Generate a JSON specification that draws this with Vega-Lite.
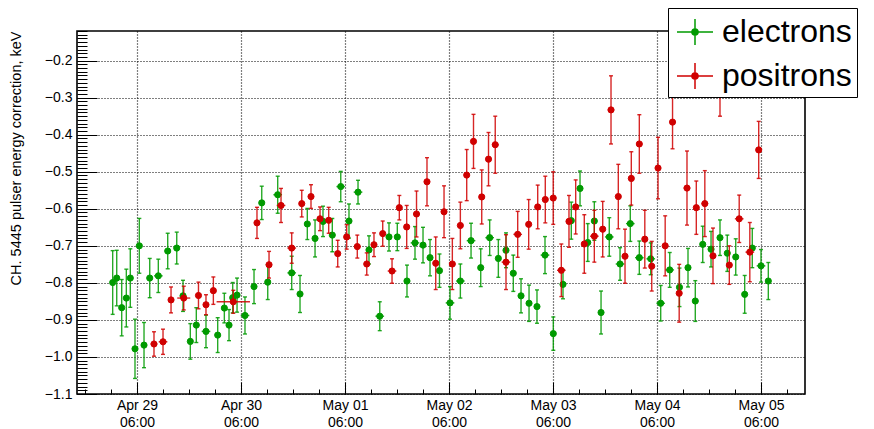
{
  "$schema": "https://vega.github.io/schema/vega-lite/v6.json",
  "width": 728,
  "height": 363,
  "autosize": {"type": "none"},
  "padding": {"left": 77, "top": 31, "right": 69, "bottom": 35},
  "background": "white",
  "config": {
    "font": "Liberation Sans",
    "view": {"stroke": "black", "strokeWidth": 1.6},
    "axis": {"labelColor": "black", "tickColor": "black", "titleColor": "black", "labelFont": "Liberation Sans", "titleFont": "Liberation Sans"},
    "legend": {
      "title": null,
      "orient": "none",
      "legendX": 591,
      "legendY": -23,
      "fillColor": "white",
      "strokeColor": "black",
      "padding": 5,
      "rowPadding": 9,
      "symbolType": "M-1,0H1M0,-0.72V0.72M-0.17,0A0.17,0.17 0 1,0 0.17,0A0.17,0.17 0 1,0 -0.17,0Z",
      "symbolSize": 1296,
      "symbolOffset": 3,
      "symbolStrokeWidth": 1.5,
      "labelFont": "Liberation Sans",
      "labelFontSize": 32,
      "labelColor": "black",
      "labelOffset": 8,
      "labelLimit": 400
    }
  },
  "data": {
    "values": [
      {"s": "electrons", "t": "2021-04-29T00:23:00Z", "v": -0.799, "e": 0.086},
      {"s": "electrons", "t": "2021-04-29T01:19:00Z", "v": -0.787, "e": 0.075},
      {"s": "electrons", "t": "2021-04-29T02:28:00Z", "v": -0.867, "e": 0.076},
      {"s": "electrons", "t": "2021-04-29T03:32:00Z", "v": -0.841, "e": 0.078},
      {"s": "electrons", "t": "2021-04-29T04:27:00Z", "v": -0.787, "e": 0.079},
      {"s": "electrons", "t": "2021-04-29T05:32:00Z", "v": -0.978, "e": 0.080},
      {"s": "electrons", "t": "2021-04-29T06:32:00Z", "v": -0.700, "e": 0.074},
      {"s": "electrons", "t": "2021-04-29T07:37:00Z", "v": -0.968, "e": 0.061},
      {"s": "electrons", "t": "2021-04-29T08:56:00Z", "v": -0.787, "e": 0.053},
      {"s": "electrons", "t": "2021-04-29T10:55:00Z", "v": -0.781, "e": 0.045, "xe": 60},
      {"s": "electrons", "t": "2021-04-29T13:05:00Z", "v": -0.714, "e": 0.048},
      {"s": "electrons", "t": "2021-04-29T15:10:00Z", "v": -0.706, "e": 0.043},
      {"s": "electrons", "t": "2021-04-29T16:37:00Z", "v": -0.835, "e": 0.042},
      {"s": "electrons", "t": "2021-04-29T18:18:00Z", "v": -0.958, "e": 0.048},
      {"s": "electrons", "t": "2021-04-29T19:41:00Z", "v": -0.914, "e": 0.047},
      {"s": "electrons", "t": "2021-04-29T21:55:00Z", "v": -0.931, "e": 0.044, "xe": 60},
      {"s": "electrons", "t": "2021-04-30T00:37:00Z", "v": -0.941, "e": 0.047},
      {"s": "electrons", "t": "2021-04-30T02:09:00Z", "v": -0.868, "e": 0.040},
      {"s": "electrons", "t": "2021-04-30T03:14:00Z", "v": -0.914, "e": 0.042},
      {"s": "electrons", "t": "2021-04-30T04:05:00Z", "v": -0.840, "e": 0.041},
      {"s": "electrons", "t": "2021-04-30T05:05:00Z", "v": -0.833, "e": 0.046},
      {"s": "electrons", "t": "2021-04-30T06:55:00Z", "v": -0.888, "e": 0.050, "xe": 60},
      {"s": "electrons", "t": "2021-04-30T09:00:00Z", "v": -0.810, "e": 0.046},
      {"s": "electrons", "t": "2021-04-30T10:47:00Z", "v": -0.584, "e": 0.045},
      {"s": "electrons", "t": "2021-04-30T12:10:00Z", "v": -0.798, "e": 0.047},
      {"s": "electrons", "t": "2021-04-30T14:28:00Z", "v": -0.562, "e": 0.050, "xe": 60},
      {"s": "electrons", "t": "2021-04-30T17:42:00Z", "v": -0.773, "e": 0.045, "xe": 60},
      {"s": "electrons", "t": "2021-04-30T19:37:00Z", "v": -0.830, "e": 0.050},
      {"s": "electrons", "t": "2021-04-30T21:18:00Z", "v": -0.641, "e": 0.042},
      {"s": "electrons", "t": "2021-04-30T23:05:00Z", "v": -0.680, "e": 0.050},
      {"s": "electrons", "t": "2021-05-01T00:55:00Z", "v": -0.634, "e": 0.041},
      {"s": "electrons", "t": "2021-05-01T03:04:00Z", "v": -0.671, "e": 0.045},
      {"s": "electrons", "t": "2021-05-01T05:01:00Z", "v": -0.540, "e": 0.041, "xe": 60},
      {"s": "electrons", "t": "2021-05-01T06:55:00Z", "v": -0.633, "e": 0.046},
      {"s": "electrons", "t": "2021-05-01T09:00:00Z", "v": -0.555, "e": 0.032, "xe": 60},
      {"s": "electrons", "t": "2021-05-01T11:32:00Z", "v": -0.711, "e": 0.038},
      {"s": "electrons", "t": "2021-05-01T14:01:00Z", "v": -0.890, "e": 0.039, "xe": 60},
      {"s": "electrons", "t": "2021-05-01T16:09:00Z", "v": -0.676, "e": 0.038},
      {"s": "electrons", "t": "2021-05-01T18:04:00Z", "v": -0.676, "e": 0.037},
      {"s": "electrons", "t": "2021-05-01T20:18:00Z", "v": -0.795, "e": 0.043},
      {"s": "electrons", "t": "2021-05-01T22:09:00Z", "v": -0.692, "e": 0.044, "xe": 60},
      {"s": "electrons", "t": "2021-05-02T00:00:00Z", "v": -0.698, "e": 0.048},
      {"s": "electrons", "t": "2021-05-02T01:37:00Z", "v": -0.732, "e": 0.049},
      {"s": "electrons", "t": "2021-05-02T03:48:00Z", "v": -0.767, "e": 0.045},
      {"s": "electrons", "t": "2021-05-02T06:14:00Z", "v": -0.854, "e": 0.044, "xe": 60},
      {"s": "electrons", "t": "2021-05-02T08:37:00Z", "v": -0.795, "e": 0.046, "xe": 60},
      {"s": "electrons", "t": "2021-05-02T11:05:00Z", "v": -0.686, "e": 0.047, "xe": 60},
      {"s": "electrons", "t": "2021-05-02T13:19:00Z", "v": -0.759, "e": 0.051},
      {"s": "electrons", "t": "2021-05-02T15:23:00Z", "v": -0.678, "e": 0.048, "xe": 60},
      {"s": "electrons", "t": "2021-05-02T17:23:00Z", "v": -0.734, "e": 0.051},
      {"s": "electrons", "t": "2021-05-02T19:09:00Z", "v": -0.712, "e": 0.047},
      {"s": "electrons", "t": "2021-05-02T20:50:00Z", "v": -0.774, "e": 0.049},
      {"s": "electrons", "t": "2021-05-02T22:37:00Z", "v": -0.835, "e": 0.046},
      {"s": "electrons", "t": "2021-05-03T00:28:00Z", "v": -0.855, "e": 0.049},
      {"s": "electrons", "t": "2021-05-03T02:18:00Z", "v": -0.864, "e": 0.045},
      {"s": "electrons", "t": "2021-05-03T04:09:00Z", "v": -0.725, "e": 0.050, "xe": 60},
      {"s": "electrons", "t": "2021-05-03T06:04:00Z", "v": -0.937, "e": 0.045},
      {"s": "electrons", "t": "2021-05-03T08:18:00Z", "v": -0.804, "e": 0.039},
      {"s": "electrons", "t": "2021-05-03T10:13:00Z", "v": -0.632, "e": 0.050},
      {"s": "electrons", "t": "2021-05-03T12:14:00Z", "v": -0.545, "e": 0.047},
      {"s": "electrons", "t": "2021-05-03T14:01:00Z", "v": -0.691, "e": 0.051},
      {"s": "electrons", "t": "2021-05-03T15:32:00Z", "v": -0.633, "e": 0.052},
      {"s": "electrons", "t": "2021-05-03T17:05:00Z", "v": -0.880, "e": 0.058},
      {"s": "electrons", "t": "2021-05-03T18:59:00Z", "v": -0.676, "e": 0.052, "xe": 60},
      {"s": "electrons", "t": "2021-05-03T21:28:00Z", "v": -0.749, "e": 0.044, "xe": 60},
      {"s": "electrons", "t": "2021-05-03T23:50:00Z", "v": -0.640, "e": 0.048, "xe": 60},
      {"s": "electrons", "t": "2021-05-04T01:55:00Z", "v": -0.732, "e": 0.045, "xe": 60},
      {"s": "electrons", "t": "2021-05-04T04:33:00Z", "v": -0.735, "e": 0.043, "xe": 60},
      {"s": "electrons", "t": "2021-05-04T06:51:00Z", "v": -0.855, "e": 0.048, "xe": 60},
      {"s": "electrons", "t": "2021-05-04T08:56:00Z", "v": -0.765, "e": 0.047, "xe": 60},
      {"s": "electrons", "t": "2021-05-04T11:11:00Z", "v": -0.812, "e": 0.052},
      {"s": "electrons", "t": "2021-05-04T13:09:00Z", "v": -0.759, "e": 0.052},
      {"s": "electrons", "t": "2021-05-04T14:50:00Z", "v": -0.849, "e": 0.055},
      {"s": "electrons", "t": "2021-05-04T16:33:00Z", "v": -0.696, "e": 0.049},
      {"s": "electrons", "t": "2021-05-04T18:28:00Z", "v": -0.709, "e": 0.048},
      {"s": "electrons", "t": "2021-05-04T20:32:00Z", "v": -0.678, "e": 0.048},
      {"s": "electrons", "t": "2021-05-04T22:13:00Z", "v": -0.720, "e": 0.049},
      {"s": "electrons", "t": "2021-05-05T00:10:00Z", "v": -0.730, "e": 0.049},
      {"s": "electrons", "t": "2021-05-05T02:14:00Z", "v": -0.831, "e": 0.051},
      {"s": "electrons", "t": "2021-05-05T03:59:00Z", "v": -0.706, "e": 0.053},
      {"s": "electrons", "t": "2021-05-05T06:00:00Z", "v": -0.754, "e": 0.044, "xe": 60},
      {"s": "electrons", "t": "2021-05-05T07:41:00Z", "v": -0.795, "e": 0.050},
      {"s": "positrons", "t": "2021-04-29T09:55:00Z", "v": -0.965, "e": 0.033, "xe": 45},
      {"s": "positrons", "t": "2021-04-29T12:00:00Z", "v": -0.959, "e": 0.034, "xe": 60},
      {"s": "positrons", "t": "2021-04-29T13:51:00Z", "v": -0.846, "e": 0.035},
      {"s": "positrons", "t": "2021-04-29T16:47:00Z", "v": -0.841, "e": 0.032, "xe": 90},
      {"s": "positrons", "t": "2021-04-29T20:11:00Z", "v": -0.834, "e": 0.036},
      {"s": "positrons", "t": "2021-04-29T21:55:00Z", "v": -0.859, "e": 0.027},
      {"s": "positrons", "t": "2021-04-29T23:37:00Z", "v": -0.821, "e": 0.037},
      {"s": "positrons", "t": "2021-04-30T04:13:00Z", "v": -0.851, "e": 0.031, "xe": 231},
      {"s": "positrons", "t": "2021-04-30T09:41:00Z", "v": -0.638, "e": 0.042},
      {"s": "positrons", "t": "2021-04-30T12:28:00Z", "v": -0.751, "e": 0.036},
      {"s": "positrons", "t": "2021-04-30T15:14:00Z", "v": -0.591, "e": 0.046, "xe": 60},
      {"s": "positrons", "t": "2021-04-30T17:42:00Z", "v": -0.706, "e": 0.041, "xe": 60},
      {"s": "positrons", "t": "2021-04-30T20:01:00Z", "v": -0.586, "e": 0.036},
      {"s": "positrons", "t": "2021-04-30T22:09:00Z", "v": -0.567, "e": 0.032},
      {"s": "positrons", "t": "2021-05-01T00:14:00Z", "v": -0.627, "e": 0.032},
      {"s": "positrons", "t": "2021-05-01T02:14:00Z", "v": -0.631, "e": 0.035},
      {"s": "positrons", "t": "2021-05-01T04:19:00Z", "v": -0.721, "e": 0.036},
      {"s": "positrons", "t": "2021-05-01T06:23:00Z", "v": -0.676, "e": 0.033},
      {"s": "positrons", "t": "2021-05-01T08:50:00Z", "v": -0.702, "e": 0.031},
      {"s": "positrons", "t": "2021-05-01T11:01:00Z", "v": -0.749, "e": 0.030},
      {"s": "positrons", "t": "2021-05-01T12:41:00Z", "v": -0.697, "e": 0.032},
      {"s": "positrons", "t": "2021-05-01T14:42:00Z", "v": -0.667, "e": 0.034},
      {"s": "positrons", "t": "2021-05-01T16:51:00Z", "v": -0.768, "e": 0.033, "xe": 60},
      {"s": "positrons", "t": "2021-05-01T18:32:00Z", "v": -0.597, "e": 0.033},
      {"s": "positrons", "t": "2021-05-01T20:14:00Z", "v": -0.649, "e": 0.058},
      {"s": "positrons", "t": "2021-05-01T22:30:00Z", "v": -0.614, "e": 0.062},
      {"s": "positrons", "t": "2021-05-02T00:55:00Z", "v": -0.527, "e": 0.065},
      {"s": "positrons", "t": "2021-05-02T02:56:00Z", "v": -0.747, "e": 0.071},
      {"s": "positrons", "t": "2021-05-02T04:51:00Z", "v": -0.608, "e": 0.070},
      {"s": "positrons", "t": "2021-05-02T06:46:00Z", "v": -0.749, "e": 0.069},
      {"s": "positrons", "t": "2021-05-02T08:37:00Z", "v": -0.645, "e": 0.063},
      {"s": "positrons", "t": "2021-05-02T10:05:00Z", "v": -0.509, "e": 0.069},
      {"s": "positrons", "t": "2021-05-02T11:39:00Z", "v": -0.418, "e": 0.073},
      {"s": "positrons", "t": "2021-05-02T13:33:00Z", "v": -0.568, "e": 0.073},
      {"s": "positrons", "t": "2021-05-02T15:07:00Z", "v": -0.466, "e": 0.072},
      {"s": "positrons", "t": "2021-05-02T16:40:00Z", "v": -0.427, "e": 0.077, "xe": 45},
      {"s": "positrons", "t": "2021-05-02T19:09:00Z", "v": -0.744, "e": 0.074, "xe": 60},
      {"s": "positrons", "t": "2021-05-02T21:51:00Z", "v": -0.669, "e": 0.062, "xe": 60},
      {"s": "positrons", "t": "2021-05-03T00:23:00Z", "v": -0.642, "e": 0.067},
      {"s": "positrons", "t": "2021-05-03T02:28:00Z", "v": -0.595, "e": 0.059},
      {"s": "positrons", "t": "2021-05-03T04:13:00Z", "v": -0.575, "e": 0.063},
      {"s": "positrons", "t": "2021-05-03T06:03:00Z", "v": -0.571, "e": 0.071},
      {"s": "positrons", "t": "2021-05-03T07:55:00Z", "v": -0.766, "e": 0.071, "xe": 60},
      {"s": "positrons", "t": "2021-05-03T09:41:00Z", "v": -0.634, "e": 0.070},
      {"s": "positrons", "t": "2021-05-03T11:14:00Z", "v": -0.595, "e": 0.073},
      {"s": "positrons", "t": "2021-05-03T13:13:00Z", "v": -0.695, "e": 0.079},
      {"s": "positrons", "t": "2021-05-03T15:32:00Z", "v": -0.674, "e": 0.070, "xe": 60},
      {"s": "positrons", "t": "2021-05-03T17:28:00Z", "v": -0.655, "e": 0.075},
      {"s": "positrons", "t": "2021-05-03T19:23:00Z", "v": -0.333, "e": 0.092, "xe": 45},
      {"s": "positrons", "t": "2021-05-03T21:04:00Z", "v": -0.567, "e": 0.087},
      {"s": "positrons", "t": "2021-05-03T22:37:00Z", "v": -0.728, "e": 0.073},
      {"s": "positrons", "t": "2021-05-04T00:04:00Z", "v": -0.518, "e": 0.072},
      {"s": "positrons", "t": "2021-05-04T01:55:00Z", "v": -0.425, "e": 0.079},
      {"s": "positrons", "t": "2021-05-04T03:11:00Z", "v": -0.682, "e": 0.078},
      {"s": "positrons", "t": "2021-05-04T04:47:00Z", "v": -0.755, "e": 0.067},
      {"s": "positrons", "t": "2021-05-04T06:14:00Z", "v": -0.490, "e": 0.083},
      {"s": "positrons", "t": "2021-05-04T07:53:00Z", "v": -0.700, "e": 0.081},
      {"s": "positrons", "t": "2021-05-04T09:35:00Z", "v": -0.366, "e": 0.072},
      {"s": "positrons", "t": "2021-05-04T11:07:00Z", "v": -0.828, "e": 0.078},
      {"s": "positrons", "t": "2021-05-04T12:55:00Z", "v": -0.544, "e": 0.100, "xe": 45},
      {"s": "positrons", "t": "2021-05-04T15:04:00Z", "v": -0.597, "e": 0.072},
      {"s": "positrons", "t": "2021-05-04T17:02:00Z", "v": -0.586, "e": 0.089, "xe": 45},
      {"s": "positrons", "t": "2021-05-04T18:55:00Z", "v": -0.727, "e": 0.075},
      {"s": "positrons", "t": "2021-05-04T20:32:00Z", "v": -0.270, "e": 0.080},
      {"s": "positrons", "t": "2021-05-04T22:41:00Z", "v": -0.752, "e": 0.052},
      {"s": "positrons", "t": "2021-05-05T00:58:00Z", "v": -0.627, "e": 0.064, "xe": 60},
      {"s": "positrons", "t": "2021-05-05T03:25:00Z", "v": -0.717, "e": 0.080, "xe": 60},
      {"s": "positrons", "t": "2021-05-05T05:28:00Z", "v": -0.441, "e": 0.077}
    ]
  },
  "resolve": {"axis": {"x": "independent", "y": "independent"}},
  "layer": [
    {
      "transform": [{"filter": {"field": "s", "equal": "electrons"}}],
      "mark": {"type": "errorbar", "color": "#009a00", "opacity": 0.85, "thickness": 1.4, "ticks": {"size": 4}},
      "encoding": {
        "x": {
          "field": "t", "type": "temporal",
          "scale": {"type": "utc", "domain": [{"year": 2021, "month": 4, "date": 28, "hours": 16, "minutes": 9, "utc": true}, {"year": 2021, "month": 5, "date": 5, "hours": 16, "minutes": 9, "utc": true}]},
          "axis": {"orient": "bottom", "tickCount": 28, "tickSize": -5, "tickWidth": 1, "labels": false, "domain": false, "grid": false, "title": null}
        },
        "y": {
          "field": "v", "type": "quantitative",
          "scale": {"domain": [-1.1, -0.12], "nice": false, "zero": false},
          "axis": {"orient": "left", "tickCount": 100, "tickSize": -10, "tickWidth": 1, "labels": false, "domain": false, "grid": false, "title": null}
        },
        "yError": {"field": "e"}
      }
    },
    {
      "transform": [
        {"filter": {"field": "s", "equal": "electrons"}},
        {"filter": {"field": "xe", "valid": true}},
        {"calculate": "time(datum.t) - datum.xe * 60000", "as": "t0"},
        {"calculate": "time(datum.t) + datum.xe * 60000", "as": "t1"}
      ],
      "mark": {"type": "rule", "color": "#009a00", "opacity": 0.85, "strokeWidth": 1.4},
      "encoding": {
        "x": {"field": "t0", "type": "temporal", "axis": null},
        "x2": {"field": "t1"},
        "y": {"field": "v", "type": "quantitative", "axis": null}
      }
    },
    {
      "transform": [{"filter": {"field": "s", "equal": "electrons"}}],
      "mark": {"type": "point", "filled": false, "shape": "circle", "size": 38, "opacity": 1, "strokeWidth": 1},
      "encoding": {
        "x": {
          "field": "t", "type": "temporal",
          "axis": {
            "orient": "bottom",
            "values": [
              {"year": 2021, "month": 4, "date": 29, "hours": 6, "utc": true},
              {"year": 2021, "month": 4, "date": 30, "hours": 6, "utc": true},
              {"year": 2021, "month": 5, "date": 1, "hours": 6, "utc": true},
              {"year": 2021, "month": 5, "date": 2, "hours": 6, "utc": true},
              {"year": 2021, "month": 5, "date": 3, "hours": 6, "utc": true},
              {"year": 2021, "month": 5, "date": 4, "hours": 6, "utc": true},
              {"year": 2021, "month": 5, "date": 5, "hours": 6, "utc": true}
            ],
            "labelExpr": "[utcFormat(datum.value, '%b %d'), utcFormat(datum.value, '%H:%M')]",
            "tickSize": -12, "tickWidth": 1,
            "grid": true, "gridColor": "black", "gridDash": [1, 2], "gridWidth": 1.2, "gridOpacity": 1,
            "domain": false, "title": null,
            "labelFontSize": 14, "labelPadding": 16, "labelLineHeight": 17,
            "labelFlush": false, "labelOverlap": false
          }
        },
        "y": {
          "field": "v", "type": "quantitative",
          "axis": {
            "orient": "left",
            "values": [-1.1, -1.0, -0.9, -0.8, -0.7, -0.6, -0.5, -0.4, -0.3, -0.2],
            "format": ".1f",
            "tickSize": -20, "tickWidth": 1,
            "grid": true, "gridColor": "black", "gridDash": [1, 2], "gridWidth": 1.2, "gridOpacity": 1,
            "domain": false,
            "labelFontSize": 14, "labelPadding": 25, "labelFlush": false, "labelOverlap": false,
            "title": "CH. 5445 pulser energy correction, keV",
            "titleFontSize": 14.5, "titleFontWeight": "normal",
            "titleAngle": 270, "titleAlign": "right", "titleBaseline": "middle",
            "titleX": -61, "titleY": 0
          }
        },
        "fill": {
          "field": "s", "type": "nominal",
          "scale": {"domain": ["electrons", "positrons"], "range": ["#009a00", "#d00000"]},
          "legend": {"symbolStrokeWidth": 1.5}
        },
        "stroke": {
          "field": "s", "type": "nominal",
          "scale": {"domain": ["electrons", "positrons"], "range": ["#009a00", "#d00000"]},
          "legend": {"symbolStrokeWidth": 1.5}
        }
      }
    },
    {
      "transform": [{"filter": {"field": "s", "equal": "positrons"}}],
      "mark": {"type": "errorbar", "color": "#d00000", "opacity": 0.85, "thickness": 1.4, "ticks": {"size": 4}},
      "encoding": {
        "x": {"field": "t", "type": "temporal", "axis": null},
        "y": {"field": "v", "type": "quantitative", "axis": null},
        "yError": {"field": "e"}
      }
    },
    {
      "transform": [
        {"filter": {"field": "s", "equal": "positrons"}},
        {"filter": {"field": "xe", "valid": true}},
        {"calculate": "time(datum.t) - datum.xe * 60000", "as": "t0"},
        {"calculate": "time(datum.t) + datum.xe * 60000", "as": "t1"}
      ],
      "mark": {"type": "rule", "color": "#d00000", "opacity": 0.85, "strokeWidth": 1.4},
      "encoding": {
        "x": {"field": "t0", "type": "temporal", "axis": null},
        "x2": {"field": "t1"},
        "y": {"field": "v", "type": "quantitative", "axis": null}
      }
    },
    {
      "transform": [{"filter": {"field": "s", "equal": "positrons"}}],
      "mark": {"type": "point", "filled": false, "shape": "circle", "size": 38, "opacity": 1, "strokeWidth": 1},
      "encoding": {
        "x": {"field": "t", "type": "temporal", "axis": null},
        "y": {"field": "v", "type": "quantitative", "axis": null},
        "fill": {"field": "s", "type": "nominal", "legend": null},
        "stroke": {"field": "s", "type": "nominal", "legend": null}
      }
    }
  ]
}
